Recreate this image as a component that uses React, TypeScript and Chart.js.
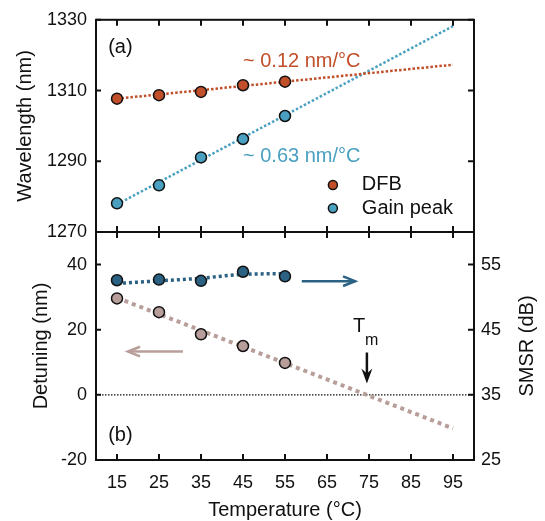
import React, { useEffect, useRef } from 'react';
import { Chart, registerables } from 'chart.js';

Chart.register(...registerables);

const W = 545;
const H = 521;
const FONT = '"Liberation Sans", Arial, Helvetica, sans-serif';
const INK = '#111111';

// ---------- data ----------
const temperatures = [15, 25, 35, 45, 55];
const dfbWavelength = [1307.7, 1308.7, 1309.6, 1311.5, 1312.5];
const gainPeakWavelength = [1278.1, 1283.2, 1291.1, 1296.3, 1302.8];
const fitTemperatures = [15, 95];
const dfbFit = [1307.7, 1317.3];
const gainPeakFit = [1277.8, 1328.2];
const detuning = [29.6, 25.4, 18.6, 15.0, 9.8];
const detuningFit = [29.8, -10.3];
const smsr = [52.6, 52.7, 52.5, 53.9, 53.2];
const smsrFitTemperatures = [15, 25, 35, 45, 55];
const smsrFit = [52.1, 52.5, 52.9, 53.5, 53.6];

const temperatureTicks = [15, 25, 35, 45, 55, 65, 75, 85, 95];
const wavelengthTicks = [1270, 1290, 1310, 1330];
const detuningTicks = [-20, 0, 20, 40];
const smsrTicks = [25, 35, 45, 55];

// ---------- colours ----------
const DFB_C = '#c14f2a';
const GAIN_C = '#4aa0c0';
const SMSR_C = '#2b6283';
const DET_C = '#b89e9a';

const pts = (xs: number[], ys: number[]) => xs.map((x, i) => ({ x, y: ys[i] }));
const setTicks = (vals: number[]) => (scale: any) => {
  scale.ticks = vals.map((v) => ({ value: v }));
};
const plain = (v: any) => String(v);

function text(ctx: CanvasRenderingContext2D, s: string, x: number, y: number, size: number, color: string, align: CanvasTextAlign = 'left', baseline: CanvasTextBaseline = 'alphabetic', rot = 0) {
  ctx.save();
  ctx.font = `${size}px ${FONT}`;
  ctx.fillStyle = color;
  ctx.textAlign = align;
  ctx.textBaseline = baseline;
  ctx.translate(x, y);
  ctx.rotate(rot);
  ctx.fillText(s, 0, 0);
  ctx.restore();
}

function chevronArrow(ctx: CanvasRenderingContext2D, x1: number, y1: number, x2: number, y2: number, color: string) {
  ctx.save();
  ctx.strokeStyle = color;
  ctx.lineWidth = 2.5;
  ctx.beginPath();
  ctx.moveTo(x1, y1);
  ctx.lineTo(x2, y2);
  ctx.stroke();
  const a = Math.atan2(y2 - y1, x2 - x1);
  const h = 13;
  ctx.beginPath();
  ctx.moveTo(x2 - h * Math.cos(a - 0.38), y2 - h * Math.sin(a - 0.38));
  ctx.lineTo(x2, y2);
  ctx.lineTo(x2 - h * Math.cos(a + 0.38), y2 - h * Math.sin(a + 0.38));
  ctx.stroke();
  ctx.restore();
}

function solidArrow(ctx: CanvasRenderingContext2D, x: number, y1: number, y2: number) {
  ctx.save();
  ctx.strokeStyle = INK;
  ctx.fillStyle = INK;
  ctx.lineWidth = 2.5;
  ctx.beginPath();
  ctx.moveTo(x, y1);
  ctx.lineTo(x, y2 - 8);
  ctx.stroke();
  ctx.beginPath();
  ctx.moveTo(x - 5.5, y2 - 15);
  ctx.lineTo(x, y2);
  ctx.lineTo(x + 5.5, y2 - 15);
  ctx.lineTo(x, y2 - 10);
  ctx.closePath();
  ctx.fill();
  ctx.restore();
}

function drawFrame(chart: any, leftTicks: number[], rightTicks: number[], yKey: string) {
  const { ctx, chartArea: a } = chart;
  const xs = chart.scales.x;
  const ys = chart.scales[yKey];
  const L = 6;
  ctx.save();
  ctx.strokeStyle = INK;
  ctx.lineWidth = 2;
  ctx.beginPath();
  temperatureTicks.forEach((v) => {
    const px = xs.getPixelForValue(v);
    ctx.moveTo(px, a.bottom);
    ctx.lineTo(px, a.bottom - L);
    ctx.moveTo(px, a.top);
    ctx.lineTo(px, a.top + L);
  });
  rightTicks.forEach((v) => {
    const py = ys.getPixelForValue(v);
    ctx.moveTo(a.right, py);
    ctx.lineTo(a.right - L, py);
  });
  leftTicks.forEach((v) => {
    const py = ys.getPixelForValue(v);
    ctx.moveTo(a.left, py);
    ctx.lineTo(a.left + 5, py);
  });
  ctx.stroke();
  ctx.strokeRect(a.left, a.top, a.right - a.left, a.bottom - a.top);
  ctx.restore();
}

const topPlugin = {
  id: 'topDecor',
  afterDatasetsDraw(chart: any) {
    const { ctx } = chart;
    const x = chart.scales.x;
    const y = chart.scales.y;
    const X = (v: number) => x.getPixelForValue(v);
    const Y = (v: number) => y.getPixelForValue(v);
    drawFrame(chart, wavelengthTicks, wavelengthTicks, 'y');
    text(ctx, '(a)', X(12.9), Y(1322.3), 20, INK, 'left', 'middle');
    text(ctx, '~ 0.12 nm/\u00B0C', X(45), Y(1318.3), 20, DFB_C, 'left', 'middle');
    text(ctx, '~ 0.63 nm/\u00B0C', X(45), Y(1291.4), 20, GAIN_C, 'left', 'middle');
    // legend
    const legend = [
      { label: 'DFB', color: DFB_C, v: 1283.3 },
      { label: 'Gain peak', color: GAIN_C, v: 1276.7 },
    ];
    legend.forEach((it) => {
      ctx.save();
      ctx.beginPath();
      ctx.arc(X(66.4), Y(it.v), 4.5, 0, Math.PI * 2);
      ctx.fillStyle = it.color;
      ctx.fill();
      ctx.lineWidth = 1.5;
      ctx.strokeStyle = INK;
      ctx.stroke();
      ctx.restore();
      text(ctx, it.label, X(73.3), Y(it.v), 20, INK, 'left', 'middle');
    });
  },
};

const bottomPlugin = {
  id: 'bottomDecor',
  beforeDatasetsDraw(chart: any) {
    const { ctx, chartArea: a } = chart;
    const y = chart.scales.y;
    const py = y.getPixelForValue(0);
    ctx.save();
    ctx.strokeStyle = INK;
    ctx.lineWidth = 1.3;
    ctx.setLineDash([1.5, 1.5]);
    ctx.beginPath();
    ctx.moveTo(a.left, py);
    ctx.lineTo(a.right, py);
    ctx.stroke();
    ctx.restore();
  },
  afterDatasetsDraw(chart: any) {
    const { ctx, chartArea: a } = chart;
    const x = chart.scales.x;
    const y = chart.scales.y;
    const y2 = chart.scales.y2;
    const X = (v: number) => x.getPixelForValue(v);
    const Y = (v: number) => y.getPixelForValue(v);
    drawFrame(chart, detuningTicks, detuningTicks, 'y');
    text(ctx, '(b)', X(12.9), Y(-12.5), 20, INK, 'left', 'middle');
    chevronArrow(ctx, X(30.7), Y(13.3), X(17.6), Y(13.3), DET_C);
    chevronArrow(ctx, X(59), Y(34.9), X(71.7), Y(34.9), SMSR_C);
    text(ctx, 'T', X(71.2), Y(19.2), 20, INK, 'left', 'alphabetic');
    text(ctx, 'm', X(74.05), Y(15.2), 16, INK, 'left', 'alphabetic');
    solidArrow(ctx, X(74.5), Y(13.0), Y(3.5));
    // right axis title, reading bottom-to-top
    text(ctx, 'SMSR (dB)', y2.right - 18, (a.top + a.bottom) / 2, 20, INK, 'center', 'middle', -Math.PI / 2);
  },
};

const tickFont = { family: FONT, size: 18 };
const titleFont = { family: FONT, size: 20 };
const R = 5.5;

export default function App() {
  const topRef = useRef<HTMLCanvasElement>(null);
  const botRef = useRef<HTMLCanvasElement>(null);

  useEffect(() => {
    const top = new Chart(topRef.current as HTMLCanvasElement, {
      type: 'scatter',
      data: {
        datasets: [
          { label: 'DFB', data: pts(temperatures, dfbWavelength), backgroundColor: DFB_C, borderColor: INK, borderWidth: 1.5, pointRadius: R, order: 0 } as any,
          { label: 'Gain peak', data: pts(temperatures, gainPeakWavelength), backgroundColor: GAIN_C, borderColor: INK, borderWidth: 1.5, pointRadius: R, order: 0 },
          { label: 'DFB fit', data: pts(fitTemperatures, dfbFit), showLine: true, borderColor: DFB_C, borderWidth: 2.5, borderDash: [2.5, 2], pointRadius: 0, order: 1 },
          { label: 'Gain fit', data: pts(fitTemperatures, gainPeakFit), showLine: true, borderColor: GAIN_C, borderWidth: 2.5, borderDash: [2.5, 2], pointRadius: 0, order: 1 },
        ],
      },
      options: {
        responsive: false,
        animation: false,
        layout: { padding: { left: 0, top: 16, right: 71, bottom: H - 232 } },
        plugins: { legend: { display: false }, tooltip: { enabled: false } },
        scales: {
          x: { type: 'linear', min: 10, max: 100, display: false },
          y: {
            type: 'linear', min: 1270, max: 1330,
            afterBuildTicks: setTicks(wavelengthTicks),
            afterFit: (s: any) => { s.width = 96; },
            grid: { display: false, drawTicks: false },
            border: { display: false },
            ticks: { padding: 9, color: INK, font: tickFont, callback: plain },
            title: { display: true, text: 'Wavelength (nm)', color: INK, font: titleFont, padding: { top: 13, bottom: 0 } },
          },
        },
      },
      plugins: [topPlugin],
    } as any);

    const bot = new Chart(botRef.current as HTMLCanvasElement, {
      type: 'scatter',
      data: {
        datasets: [
          { label: 'SMSR', data: pts(temperatures, smsr), yAxisID: 'y2', backgroundColor: SMSR_C, borderColor: INK, borderWidth: 1.5, pointRadius: R, order: 0 } as any,
          { label: 'Detuning', data: pts(temperatures, detuning), yAxisID: 'y', backgroundColor: DET_C, borderColor: INK, borderWidth: 1.5, pointRadius: R, order: 0 },
          { label: 'SMSR fit', data: pts(smsrFitTemperatures, smsrFit), yAxisID: 'y2', showLine: true, cubicInterpolationMode: 'monotone', borderColor: SMSR_C, borderWidth: 3.5, borderDash: [3, 3], pointRadius: 0, order: 1 },
          { label: 'Detuning fit', data: pts(fitTemperatures, detuningFit), yAxisID: 'y', showLine: true, borderColor: DET_C, borderWidth: 4, borderDash: [4, 4], pointRadius: 0, order: 1 },
        ],
      },
      options: {
        responsive: false,
        animation: false,
        layout: { padding: { left: 0, top: 232, right: 0, bottom: 0 } },
        plugins: { legend: { display: false }, tooltip: { enabled: false } },
        scales: {
          x: {
            type: 'linear', min: 10, max: 100, position: 'bottom',
            afterBuildTicks: setTicks(temperatureTicks),
            afterFit: (s: any) => { s.height = 61; },
            grid: { display: false, drawTicks: false },
            border: { display: false },
            ticks: { padding: 12, color: INK, font: tickFont, autoSkip: false, maxRotation: 0, callback: plain },
            title: { display: true, text: 'Temperature (\u00B0C)', color: INK, font: { family: FONT, size: 20, lineHeight: 1 }, padding: { top: 0, bottom: 1 } },
          },
          y: {
            type: 'linear', min: -20, max: 50, position: 'left',
            afterBuildTicks: setTicks(detuningTicks),
            afterFit: (s: any) => { s.width = 96; },
            grid: { display: false, drawTicks: false },
            border: { display: false },
            ticks: { padding: 9, color: INK, font: tickFont, callback: plain },
            title: { display: true, text: 'Detuning (nm)', color: INK, font: titleFont, padding: { top: 29, bottom: 0 } },
          },
          y2: {
            type: 'linear', min: 25, max: 60, position: 'right',
            afterBuildTicks: setTicks(smsrTicks),
            afterFit: (s: any) => { s.width = 71; },
            grid: { display: false, drawTicks: false },
            border: { display: false },
            ticks: { padding: 7, color: INK, font: tickFont, callback: plain },
            title: { display: false, text: 'SMSR (dB)' },
          },
        },
      },
      plugins: [bottomPlugin],
    } as any);

    return () => {
      top.destroy();
      bot.destroy();
    };
  }, []);

  const cs: React.CSSProperties = { position: 'absolute', left: 0, top: 0, width: W, height: H };
  return (
    <div style={{ position: 'absolute', left: 0, top: 0, width: W, height: H, background: '#fff' }}>
      <canvas ref={topRef} width={W} height={H} style={cs} />
      <canvas ref={botRef} width={W} height={H} style={cs} />
    </div>
  );
}
